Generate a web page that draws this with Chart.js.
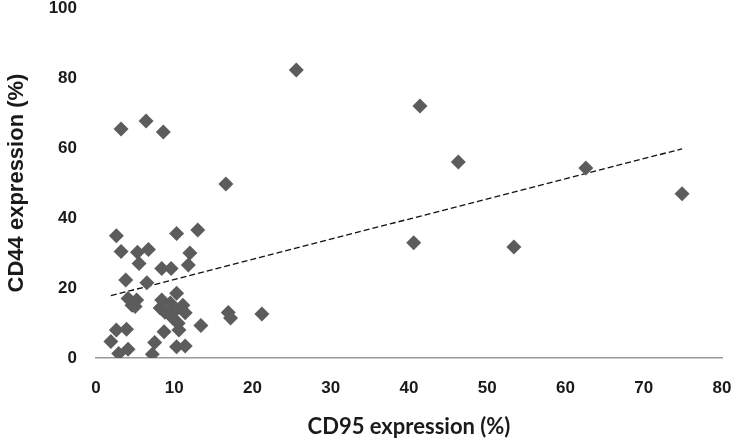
<!DOCTYPE html>
<html>
<head>
<meta charset="utf-8">
<script src="https://cdn.jsdelivr.net/npm/chart.js@4"></script>
<style>
  html, body { margin: 0; padding: 0; background: #fff; }
  #wrap { width: 734px; height: 444px; }
</style>
</head>
<body>
<div id="wrap"><canvas id="scatter" width="734" height="444"></canvas></div>
<script>
// CD95 / CD44 expression per sample (%)
const cd95 = [25.6, 41.4, 46.3, 62.6, 74.9, 40.6, 53.4, 16.6, 3.2, 6.4, 8.6, 21.2,
  13.0, 12.0, 11.8, 16.9, 17.2, 13.4, 2.6, 10.3, 3.2, 5.3, 6.7, 5.5, 8.4, 9.6,
  3.8, 6.5, 4.1, 5.2, 4.6, 5.0, 10.3, 8.4, 9.5, 8.8, 10.2, 11.1, 11.4, 9.8, 8.2,
  10.5, 10.6, 8.7, 2.6, 3.9, 1.9, 2.9, 4.1, 7.5, 7.2, 10.3, 11.4];
const cd44 = [82.3, 72.0, 56.0, 54.3, 46.9, 32.9, 31.7, 49.7, 65.4, 67.7, 64.6, 12.6,
  36.6, 30.0, 26.6, 13.0, 11.4, 9.3, 34.9, 35.6, 30.4, 30.2, 31.0, 27.0, 25.6, 25.6,
  22.3, 21.5, 17.0, 16.6, 15.1, 14.7, 18.5, 16.6, 15.7, 13.1, 13.7, 15.1, 12.9, 11.4, 14.3,
  9.9, 8.0, 7.5, 8.0, 8.2, 4.7, 1.3, 2.5, 4.4, 1.1, 3.2, 3.4];

// linear trendline as drawn in the figure
const trendSlope = 0.575;
const trendIntercept = 16.7;

const xTicks = [0, 10, 20, 30, 40, 50, 60, 70, 80];
const yTicks = [0, 20, 40, 60, 80, 100];

const points = cd95.map((x, i) => ({ x: x, y: cd44[i] }));
const xLo = Math.min(...cd95);
const xHi = Math.max(...cd95);
const trend = [
  { x: xLo, y: trendSlope * xLo + trendIntercept },
  { x: xHi, y: trendSlope * xHi + trendIntercept }
];

const tickFont = { family: 'Liberation Sans, Arial, sans-serif', size: 17, weight: 'bold' };

new Chart(document.getElementById('scatter'), {
  type: 'scatter',
  data: {
    datasets: [
      {
        data: points,
        pointStyle: 'rectRot',
        pointRadius: 7.5,
        pointBackgroundColor: '#5c5c5c',
        pointBorderColor: '#5c5c5c',
        pointBorderWidth: 0
      },
      {
        type: 'line',
        data: trend,
        borderColor: '#111',
        borderWidth: 1.3,
        borderDash: [6, 3],
        pointRadius: 0,
        fill: false
      }
    ]
  },
  options: {
    responsive: false,
    animation: false,
    layout: { padding: { top: 0, right: 0, bottom: 4, left: 4 } },
    plugins: { legend: { display: false }, tooltip: { enabled: false } },
    scales: {
      x: {
        type: 'linear',
        min: 0,
        max: 80,
        afterBuildTicks: s => { s.ticks = xTicks.map(v => ({ value: v })); },
        // invisible tick marks push the labels down without adding side padding
        grid: { display: false, drawTicks: true, tickLength: 18, tickColor: 'rgba(0,0,0,0)' },
        border: { display: true, color: '#9a9a9a', width: 1.5 },
        ticks: { padding: 2, color: '#1a1a1a', font: tickFont },
        title: {
          display: true,
          text: 'CD95 expression (%)',
          color: '#1a1a1a',
          font: { family: 'Lato, Open Sans, sans-serif', size: 22, weight: 'bold' },
          padding: { top: 14, bottom: 0 }
        },
        afterFit: s => { s.height = 82; s.paddingRight = 12; }
      },
      y: {
        type: 'linear',
        min: 0,
        max: 100,
        afterBuildTicks: s => { s.ticks = yTicks.map(v => ({ value: v })); },
        grid: { display: false, drawTicks: true, tickLength: 17, tickColor: 'rgba(0,0,0,0)' },
        border: { display: false },
        ticks: { padding: 2, color: '#1a1a1a', font: tickFont },
        title: {
          display: true,
          text: 'CD44 expression (%)',
          color: '#1a1a1a',
          font: { family: 'Liberation Sans, Arial, sans-serif', size: 22, weight: 'bold' },
          padding: { top: 0, bottom: 10 }
        },
        afterFit: s => { s.width = 92; s.paddingTop = 8; }
      }
    }
  }
});
</script>
</body>
</html>
